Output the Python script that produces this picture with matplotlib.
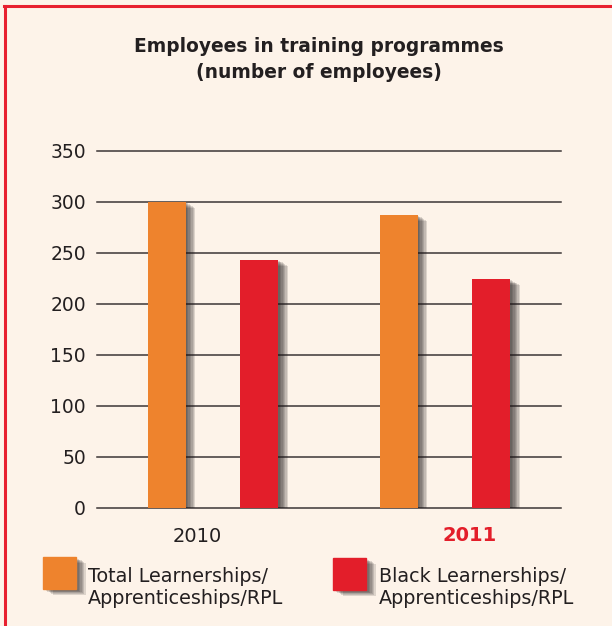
import matplotlib
matplotlib.use("Agg")
import matplotlib.pyplot as plt
import matplotlib.patches as patches
import matplotlib.patheffects as pe
from matplotlib.lines import Line2D

# data
years = ["2010", "2011"]
total_learn = [300, 287]
black_learn = [243, 224]
series_labels = ["Total Learnerships/\nApprenticeships/RPL",
                 "Black Learnerships/\nApprenticeships/RPL"]
yticks = [0, 50, 100, 150, 200, 250, 300, 350]

BG = "#fdf3e9"
ORANGE = "#ee832d"
RED = "#e31e2a"
TXT = "#231f20"
GRID = "#3b3535"

plt.rcParams["font.family"] = ["DejaVu Sans"]


def shadow():
    # fake blurred drop shadow: a few offset copies with low alpha
    fx = []
    for d in [1.0, 2.0, 3.0, 4.0, 5.0, 6.0, 7.0]:
        fx.append(pe.SimplePatchShadow(offset=(d, -d * 0.6),
                                       shadow_rgbFace="#1e1a1a", alpha=0.14))
    fx.append(pe.Normal())
    return fx


fig = plt.figure(figsize=(6.12, 6.26), dpi=100, facecolor=BG)
ax = fig.add_axes([0.1585, 0.1885, 0.758, 0.5708])
ax.set_facecolor(BG)

for t in yticks:
    ax.axhline(t, color=GRID, lw=1.1, zorder=1, clip_on=False)

x = range(len(years))
off = 0.2
w = 0.164
b1 = ax.bar([i - off for i in x], total_learn, w, color=ORANGE, zorder=3)
b2 = ax.bar([i + off for i in x], black_learn, w, color=RED, zorder=3)
for r in list(b1) + list(b2):
    r.set_path_effects(shadow())

ax.set_xlim(-0.5, 1.5)
ax.set_ylim(0, 350)
ax.set_yticks(yticks)
ax.tick_params(axis="y", length=0, pad=8, labelsize=13.5, labelcolor=TXT)
ax.set_xticks([])
for s in ax.spines.values():
    s.set_visible(False)

# year labels
ax.text(-0.069, -28, years[0], ha="center", va="center", fontsize=14,
        color=TXT)
ax.text(1.108, -27, years[1], ha="center", va="center", fontsize=14,
        color=RED, fontweight="bold")

fig.text(0.521, 1 - 46 / 626, "Employees in training programmes",
         ha="center", va="center", fontsize=13.4, fontweight="bold", color=TXT)
fig.text(0.521, 1 - 72 / 626, "(number of employees)",
         ha="center", va="center", fontsize=13.4, fontweight="bold", color=TXT)

# legend squares
W, H = 612.0, 626.0
for (sx, sy, col, lab, tx) in [(43, 557, ORANGE, series_labels[0], 88),
                               (333, 558, RED, series_labels[1], 379)]:
    sq = patches.Rectangle((sx / W, 1 - (sy + 32) / H), 33 / W, 32 / H,
                           transform=fig.transFigure, color=col,
                           zorder=3)
    sq.set_path_effects(shadow())
    fig.add_artist(sq)
    fig.text(tx / W, 1 - 576 / H, lab.split("\n")[0], ha="left",
             va="center", fontsize=13.8, color=TXT)
    fig.text(tx / W, 1 - 598 / H, lab.split("\n")[1], ha="left",
             va="center", fontsize=13.8, color=TXT)

# red frame at top and left
fig.add_artist(Line2D([4 / W, 1], [1 - 6 / H, 1 - 6 / H],
                      transform=fig.transFigure, color="#e8202f", lw=2.2))
fig.add_artist(Line2D([5 / W, 5 / W], [0, 1 - 6 / H],
                      transform=fig.transFigure, color="#e8202f", lw=2.2))

fig.savefig("out.png", dpi=100, facecolor=BG)
